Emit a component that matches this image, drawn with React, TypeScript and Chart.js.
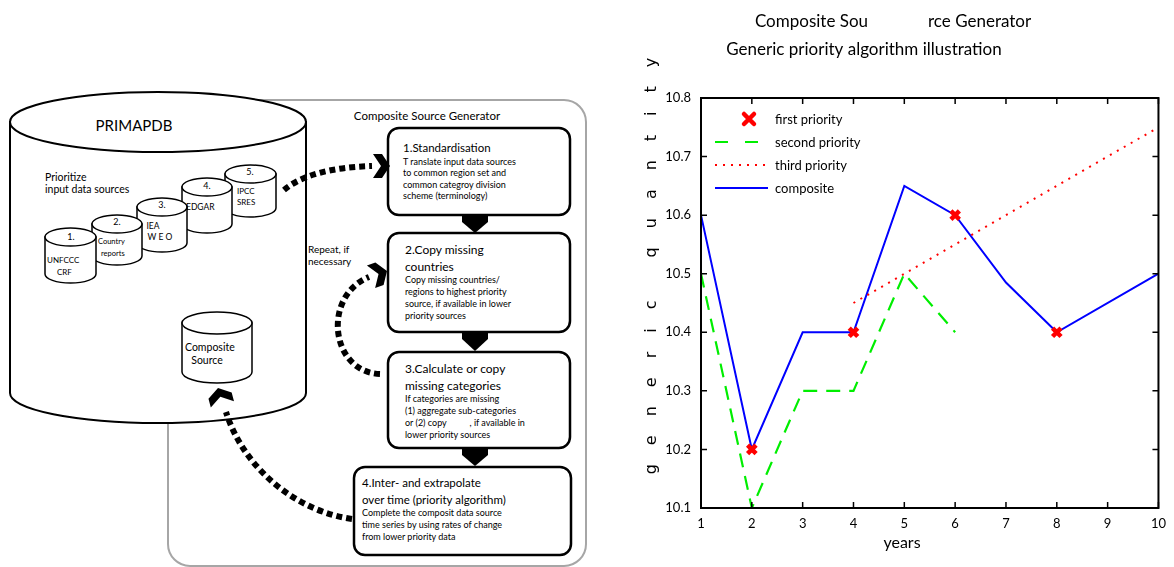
import React, { useEffect, useRef } from "react";
import { Chart, registerables } from "chart.js";

Chart.register(...registerables);

// ---------- data ----------
const xTickMin = 1;
const xTickMax = 10;
const yTickMin = 10.1;
const yTickMax = 10.8;
const yStep = 0.1;

const firstPriorityX = [2, 4, 6, 8];
const firstPriorityY = [10.2, 10.4, 10.6, 10.4];
const secondPriorityX = [1, 2, 3, 4, 5, 6];
const secondPriorityY = [10.5, 10.1, 10.3, 10.3, 10.5, 10.4];
const thirdPriorityX = [4, 10];
const thirdPriorityY = [10.45, 10.75];
const compositeX = [1, 2, 3, 4, 5, 6, 7, 8, 10];
const compositeY = [10.6, 10.2, 10.4, 10.4, 10.65, 10.6, 10.485, 10.4, 10.5];

const seriesLabels = ["first priority", "second priority", "third priority", "composite"];
const titleLine1a = "Composite Sou";
const titleLine1b = "rce Generator";
const titleLine2 = "Generic priority algorithm illustration";
const xAxisTitle = "years";
const yAxisTitle = "generic quantity";

const FONT = "Lato, sans-serif";

const zip = (xs: number[], ys: number[]) => xs.map((x, i) => ({ x, y: ys[i] }));

// ---------- chart plugin: frame, inward ticks, titles, legend ----------
const decorPlugin = {
  id: "decor",
  afterDraw(chart: any) {
    const { ctx, chartArea } = chart;
    const { left, right, top, bottom } = chartArea;
    const xs = chart.scales.x;
    const ys = chart.scales.y;
    ctx.save();
    // frame
    ctx.strokeStyle = "#000";
    ctx.lineWidth = 2;
    ctx.setLineDash([]);
    ctx.strokeRect(left, top, right - left, bottom - top);
    // inward ticks
    ctx.lineWidth = 1.5;
    const tl = 6;
    xs.ticks.forEach((t: any) => {
      const px = xs.getPixelForValue(t.value);
      ctx.beginPath();
      ctx.moveTo(px, bottom);
      ctx.lineTo(px, bottom - tl);
      ctx.moveTo(px, top);
      ctx.lineTo(px, top + tl);
      ctx.stroke();
    });
    ys.ticks.forEach((t: any) => {
      const py = ys.getPixelForValue(t.value);
      ctx.beginPath();
      ctx.moveTo(left, py);
      ctx.lineTo(left + tl, py);
      ctx.moveTo(right, py);
      ctx.lineTo(right - tl, py);
      ctx.stroke();
    });
    // titles
    ctx.fillStyle = "#000";
    ctx.font = `17px ${FONT}`;
    ctx.textBaseline = "middle";
    ctx.textAlign = "right";
    ctx.fillText(titleLine1a, left + 167, 22);
    ctx.textAlign = "left";
    ctx.fillText(titleLine1b, left + 227, 22);
    ctx.textAlign = "center";
    ctx.fillText(titleLine2, left + 163, 50);
    // x title
    ctx.font = `16px ${FONT}`;
    ctx.fillText(xAxisTitle, left + 201, 543);
    // y title (letter spaced, rotated)
    ctx.save();
    ctx.translate(22, 266);
    ctx.rotate(-Math.PI / 2);
    ctx.font = `16px 'DejaVu Sans', sans-serif`;
    ctx.textAlign = "left";
    const spacing = 19;
    (ctx as any).letterSpacing = `${spacing}px`;
    const w = ctx.measureText(yAxisTitle).width - spacing;
    ctx.fillText(yAxisTitle, -w / 2, 0);
    ctx.restore();
    // legend
    ctx.font = `13px ${FONT}`;
    ctx.textAlign = "left";
    ctx.textBaseline = "middle";
    chart.data.datasets.forEach((ds: any, i: number) => {
      const y = top + 21 + i * 23;
      const x0 = left + 14;
      const x1 = left + 67;
      ctx.save();
      if (ds.showLine === false) {
        const cx = left + 48;
        const r = 5;
        ctx.strokeStyle = ds.pointBorderColor;
        ctx.lineWidth = ds.pointBorderWidth;
        ctx.lineCap = "round";
        ctx.beginPath();
        ctx.moveTo(cx - r, y - r);
        ctx.lineTo(cx + r, y + r);
        ctx.moveTo(cx + r, y - r);
        ctx.lineTo(cx - r, y + r);
        ctx.stroke();
      } else {
        ctx.strokeStyle = ds.borderColor;
        ctx.lineWidth = ds.borderWidth;
        ctx.setLineDash(ds.legendDash || ds.borderDash || []);
        ctx.beginPath();
        ctx.moveTo(x0, y);
        ctx.lineTo(x1, y);
        ctx.stroke();
      }
      ctx.restore();
      ctx.fillStyle = "#000";
      ctx.fillText(ds.label, left + 74, y + 1);
    });
    ctx.restore();
  },
};

function PriorityChart() {
  const ref = useRef<HTMLCanvasElement | null>(null);
  useEffect(() => {
    if (!ref.current) return;
    const chart = new Chart(ref.current, {
      type: "line",
      data: {
        datasets: [
          {
            label: seriesLabels[0],
            data: zip(firstPriorityX, firstPriorityY),
            showLine: false,
            pointStyle: "crossRot",
            pointRadius: 6,
            pointBorderWidth: 4.5,
            pointBorderColor: "#ff0000",
            pointBackgroundColor: "#ff0000",
            borderColor: "#ff0000",
          } as any,
          {
            label: seriesLabels[1],
            data: zip(secondPriorityX, secondPriorityY),
            borderColor: "#00ee00",
            borderWidth: 2.2,
            borderDash: [14, 9],
            legendDash: [13, 17],
            pointRadius: 0,
            tension: 0,
          } as any,
          {
            label: seriesLabels[2],
            data: zip(thirdPriorityX, thirdPriorityY),
            borderColor: "#ff0000",
            borderWidth: 2,
            borderDash: [2, 6],
            pointRadius: 0,
            tension: 0,
          },
          {
            label: seriesLabels[3],
            data: zip(compositeX, compositeY),
            borderColor: "#0000ff",
            borderWidth: 2,
            pointRadius: 0,
            tension: 0,
          },
        ],
      },
      options: {
        animation: false,
        responsive: true,
        maintainAspectRatio: false,
        layout: { padding: { top: 98, right: 9, left: 0, bottom: 0 } },
        plugins: {
          legend: { display: false },
          title: { display: false },
          tooltip: { enabled: false },
        },
        scales: {
          x: {
            type: "linear",
            min: xTickMin,
            max: xTickMax,
            ticks: {
              stepSize: 1,
              color: "#000",
              font: { family: FONT, size: 13 },
              padding: 8,
            },
            grid: { display: false, drawTicks: false },
            border: { display: false },
            afterFit: (s: any) => {
              s.height = 59;
            },
          },
          y: {
            type: "linear",
            min: yTickMin,
            max: yTickMax,
            ticks: {
              stepSize: yStep,
              color: "#000",
              font: { family: FONT, size: 13 },
              padding: 10,
              callback: (v: any) => Number(v).toFixed(1),
            },
            grid: { display: false, drawTicks: false },
            border: { display: false },
            afterFit: (s: any) => {
              s.width = 71;
            },
          },
        },
      },
      plugins: [decorPlugin],
    });
    return () => chart.destroy();
  }, []);
  return (
    <div style={{ position: "absolute", left: 630, top: 0, width: 544, height: 567 }}>
      <canvas ref={ref} />
    </div>
  );
}

// ---------- diagram (left part) ----------
function Cyl({ L, R, T, B, ry, sw = 1.5 }: { L: number; R: number; T: number; B: number; ry: number; sw?: number }) {
  const rx = (R - L) / 2;
  const cx = (L + R) / 2;
  return (
    <g>
      <path
        d={`M${L},${T + ry} L${L},${B - ry} A${rx},${ry} 0 0 0 ${R},${B - ry} L${R},${T + ry} Z`}
        fill="#fff"
        stroke="#000"
        strokeWidth={sw}
      />
      <ellipse cx={cx} cy={T + ry} rx={rx} ry={ry} fill="#fff" stroke="#000" strokeWidth={sw} />
    </g>
  );
}

function Chevron({ x, y, angle }: { x: number; y: number; angle: number }) {
  return (
    <polygon
      transform={`translate(${x},${y}) rotate(${angle})`}
      points="-17,-12 -8,-12 0,0 -8,12 -17,12 -9,0"
      fill="#000"
    />
  );
}

function Connector({ cx, t, b }: { cx: number; t: number; b: number }) {
  return (
    <polygon points={`${cx - 13},${t} ${cx + 13},${t} ${cx + 13},${t + 6} ${cx},${b} ${cx - 13},${t + 6}`} fill="#000" />
  );
}

function T({ x, y, s, children, anchor = "start" }: any) {
  return (
    <text
      x={x}
      y={y}
      fontSize={s}
      textAnchor={anchor}
      dominantBaseline="middle"
      fontFamily={FONT}
      fill="#000"
      style={{ whiteSpace: "pre" }}
    >
      {children}
    </text>
  );
}

function Box({ x, y, w, h }: { x: number; y: number; w: number; h: number }) {
  return <rect x={x} y={y} width={w} height={h} rx={11} ry={11} fill="#fff" stroke="#000" strokeWidth={2.5} />;
}

function Diagram() {
  const dash = { fill: "none", stroke: "#000", strokeWidth: 6, strokeDasharray: "6 4" };
  return (
    <svg width={630} height={567} style={{ position: "absolute", left: 0, top: 0 }}>
      <rect x={168} y={100} width={418} height={466} rx={22} ry={22} fill="none" stroke="#a6a6a6" strokeWidth={2} />
      <Cyl L={10} R={306} T={92} B={423} ry={30} sw={2} />
      <T x={134} y={127} s={15} anchor="middle">PRIMAPDB</T>
      <T x={45} y={178} s={10.5}>Prioritize</T>
      <T x={45} y={190} s={10.5}>input data sources</T>

      <Cyl L={225} R={276} T={165} B={217} ry={9} />
      <Cyl L={182} R={232} T={178} B={233} ry={9} />
      <Cyl L={137} R={187} T={198} B={252} ry={9} />
      <Cyl L={92} R={142} T={215} B={265} ry={9} />
      <Cyl L={45} R={96} T={228} B={283} ry={9} />
      <T x={250} y={173} s={9} anchor="middle">5.</T>
      <T x={237} y={192} s={8}>IPCC</T>
      <T x={237} y={203} s={8}>SRES</T>
      <T x={207} y={187} s={9} anchor="middle">4.</T>
      <T x={186} y={208} s={8.5}>EDGAR</T>
      <T x={162} y={206} s={9} anchor="middle">3.</T>
      <T x={153} y={227} s={8.5} anchor="middle">IEA</T>
      <T x={160} y={238} s={8.5} anchor="middle">W E O</T>
      <T x={117} y={223} s={9} anchor="middle">2.</T>
      <T x={98} y={242} s={7.5}>Country</T>
      <T x={101} y={254} s={7.5}>reports</T>
      <T x={71} y={238} s={9} anchor="middle">1.</T>
      <T x={47} y={261} s={8}>UNFCCC</T>
      <T x={57} y={273} s={8}>CRF</T>

      <Cyl L={182} R={252} T={312} B={383} ry={11} />
      <T x={185} y={348} s={10.5}>Composite</T>
      <T x={207} y={361} s={10.5} anchor="middle">Source</T>

      <T x={427} y={117} s={11.5} anchor="middle">Composite Source Generator</T>
      <T x={308} y={250} s={10}>Repeat, if</T>
      <T x={308} y={262} s={10}>necessary</T>

      <Box x={388} y={128} w={182} h={87} />
      <Box x={388} y={233} w={182} h={99} />
      <Box x={388} y={352} w={182} h={96} />
      <Box x={354} y={467} w={217} h={88} />
      <Connector cx={475} t={216} b={233} />
      <Connector cx={475} t={333} b={351} />
      <Connector cx={475} t={449} b={466} />

      <T x={403} y={149} s={11.5}>1.Standardisation</T>
      <T x={403} y={163} s={9}>T ranslate input data sources</T>
      <T x={403} y={174} s={9}>to common region set and</T>
      <T x={403} y={186} s={9}>common categroy division</T>
      <T x={403} y={197} s={9}>scheme (terminology)</T>

      <T x={405} y={251} s={12}>2.Copy missing</T>
      <T x={405} y={268} s={12}>countries</T>
      <T x={405} y={281} s={9}>Copy missing countries/</T>
      <T x={405} y={293} s={9}>regions to highest priority</T>
      <T x={405} y={305} s={9}>source, if available in lower</T>
      <T x={405} y={317} s={9}>priority sources</T>

      <T x={405} y={370} s={12}>3.Calculate or copy</T>
      <T x={405} y={387} s={12}>missing categories</T>
      <T x={405} y={400} s={9}>If categories are missing</T>
      <T x={405} y={412} s={9}>(1) aggregate sub-categories</T>
      <T x={405} y={424} s={9}>{"or (2) copy          , if available in"}</T>
      <T x={405} y={436} s={9}>lower priority sources</T>

      <T x={362} y={484} s={11.5}>4.Inter- and extrapolate</T>
      <T x={362} y={501} s={11.5}>over time (priority algorithm)</T>
      <T x={362} y={514} s={9}>Complete the composit data source</T>
      <T x={362} y={526} s={9}>time series by using rates of change</T>
      <T x={362} y={538} s={9}>from lower priority data</T>

      <path d="M284,190 Q310,168 372,166" {...dash} />
      <Chevron x={390} y={166} angle={0} />
      <path d="M380,374 C330,372 322,296 369,277" {...dash} />
      <Chevron x={387} y={271} angle={-20} />
      <path d="M352,519 C300,512 245,472 226,412" {...dash} />
      <Chevron x={218} y={388} angle={-105} />
    </svg>
  );
}

export default function App() {
  return (
    <div style={{ position: "fixed", left: 0, top: 0, width: 1174, height: 567, background: "#fff", overflow: "hidden" }}>
      <Diagram />
      <PriorityChart />
    </div>
  );
}
